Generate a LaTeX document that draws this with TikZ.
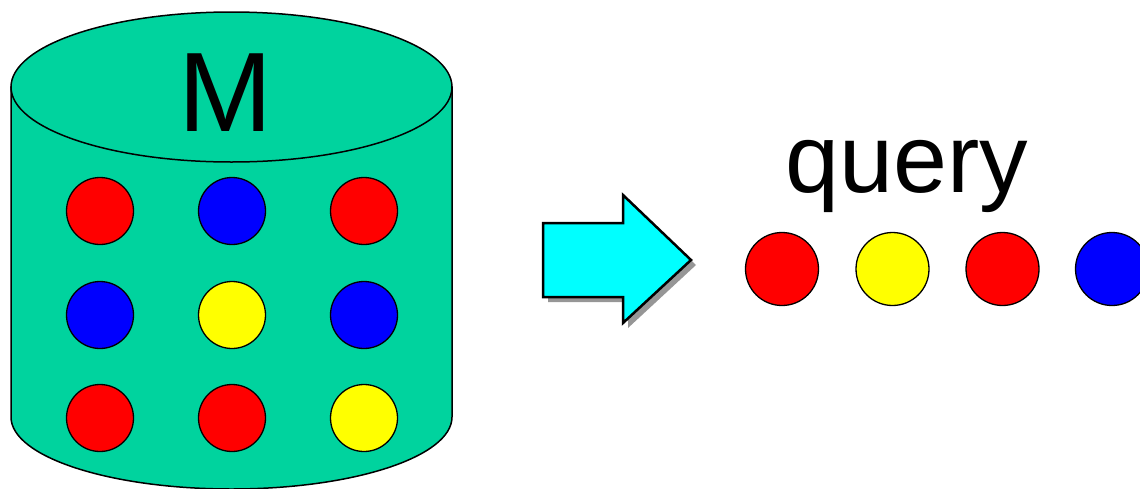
\documentclass[tikz,border=0pt]{standalone}
\usepackage{fontspec}
\setmainfont{Liberation Sans}
\definecolor{cylgreen}{RGB}{0,211,158}
\definecolor{dotred}{RGB}{255,0,0}
\definecolor{dotblue}{RGB}{0,0,255}
\definecolor{dotyellow}{RGB}{255,255,0}
\definecolor{arrcyan}{RGB}{0,255,255}
\definecolor{shadowgray}{RGB}{150,150,150}
\tikzset{
  cylfill/.style={fill=cylgreen, draw=black, line width=1.5pt},
  dot/.style={circle, draw=black, line width=1.3pt, minimum size=67pt, inner sep=0pt},
  qdot/.style={circle, draw=black, line width=1.3pt, minimum size=73pt, inner sep=0pt},
  bigarrow/.style={fill=arrcyan, draw=black, line width=2.5pt, line join=miter},
}
\begin{document}
\begin{tikzpicture}[x=1pt,y=-1pt]
\useasboundingbox (0,0) rectangle (1140,488);
% cylinder body
\path[cylfill] (11,87) -- (11,417) arc[start angle=180,end angle=0,x radius=220.5,y radius=72] -- (452,87) -- cycle;
\path[cylfill] (231.5,87) ellipse [x radius=220.5, y radius=75];
\node[anchor=base, font=\fontsize{113}{113}\selectfont, inner sep=0pt] (M) at (226,131) {M};
% dots in the cylinder
\node[dot, fill=dotred]    (d11) at (100,211) {};
\node[dot, fill=dotblue]   (d12) at (232,211) {};
\node[dot, fill=dotred]    (d13) at (364,211) {};
\node[dot, fill=dotblue]   (d21) at (100,315) {};
\node[dot, fill=dotyellow] (d22) at (232,315) {};
\node[dot, fill=dotblue]   (d23) at (364,315) {};
\node[dot, fill=dotred]    (d31) at (100,418) {};
\node[dot, fill=dotred]    (d32) at (232,418) {};
\node[dot, fill=dotyellow] (d33) at (364,418) {};
% big arrow with shadow
\fill[shadowgray] (548,228) -- (628,228) -- (628,200) -- (696,265) -- (628,328) -- (628,302) -- (548,302) -- cycle;
\path[bigarrow] (543,223) -- (623,223) -- (623,195) -- (691,260) -- (623,323) -- (623,297) -- (543,297) -- cycle;
% query
\node[anchor=base, font=\fontsize{97}{97}\selectfont, inner sep=0pt] (q) at (907,192) {query};
\node[qdot, fill=dotred]    (q1) at (782,269) {};
\node[qdot, fill=dotyellow] (q2) at (892.5,269) {};
\node[qdot, fill=dotred]    (q3) at (1002.5,269) {};
\node[qdot, fill=dotblue]   (q4) at (1112,269) {};
\end{tikzpicture}
\end{document}
